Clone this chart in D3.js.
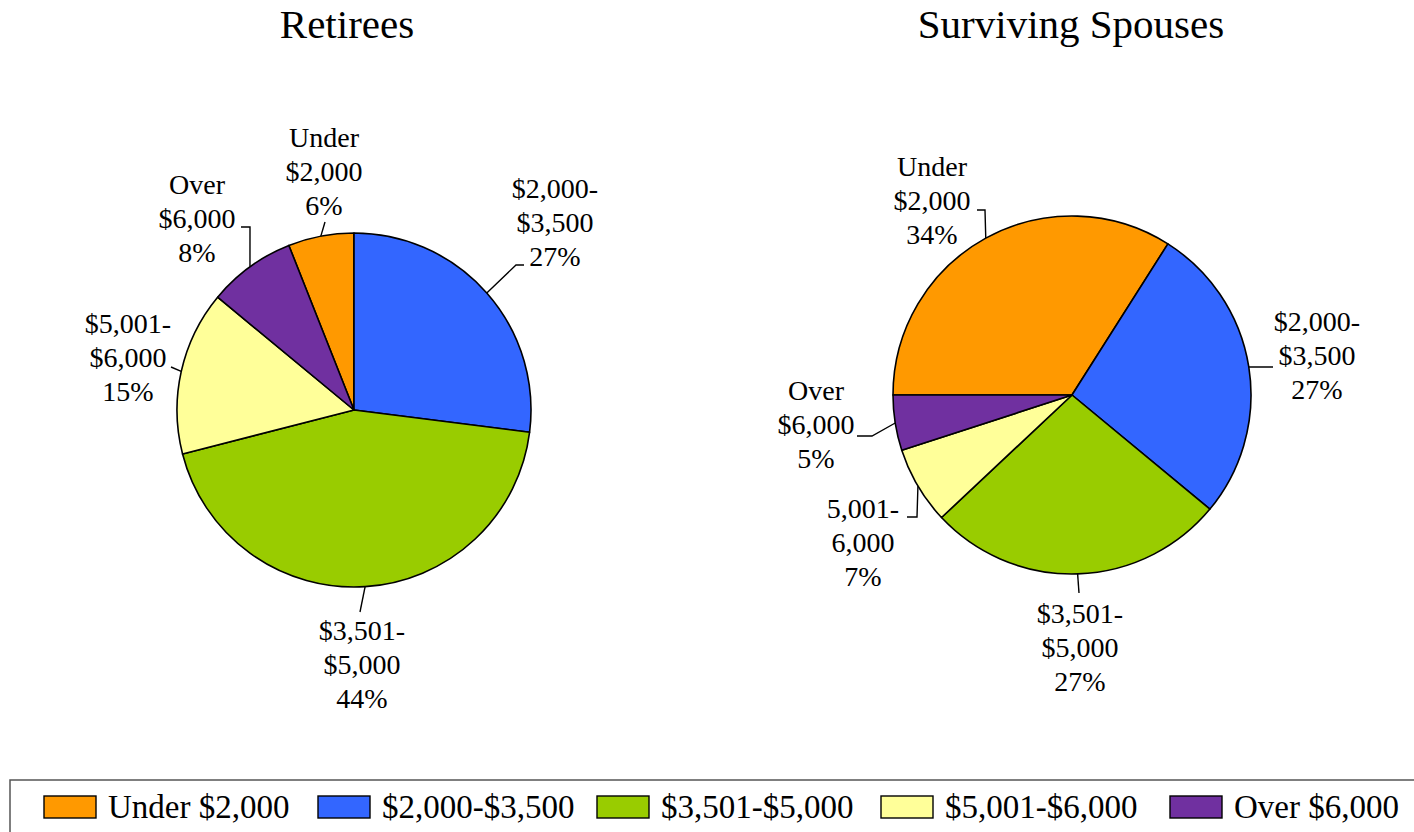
<!DOCTYPE html>
<html>
<head>
<meta charset="utf-8">
<script src="https://cdn.jsdelivr.net/npm/d3@7"></script>
<style>
  body { margin: 0; background: #fff; }
  svg { display: block; font-family: "Liberation Serif", "Times New Roman", serif; }
</style>
</head>
<body>
<div id="chart"></div>
<script>
// data
const categories = ["Under $2,000", "$2,000-$3,500", "$3,501-$5,000", "$5,001-$6,000", "Over $6,000"];
const retireesValues = [6, 27, 44, 15, 8];
const spousesValues = [34, 27, 27, 7, 5];
const retireesLabels = [["Under", "$2,000"], ["$2,000-", "$3,500"], ["$3,501-", "$5,000"], ["$5,001-", "$6,000"], ["Over", "$6,000"]];
const spousesLabels = [["Under", "$2,000"], ["$2,000-", "$3,500"], ["$3,501-", "$5,000"], ["5,001-", "6,000"], ["Over", "$6,000"]];
const colors = ["#FF9900", "#3366FF", "#99CC00", "#FFFF99", "#7030A0"];

const width = 1414, height = 832;

const svg = d3.select("#chart").append("svg")
    .attr("width", width)
    .attr("height", height);

// label layout: text offset from pie center (middle line baseline) and leader points
const pies = [
    {
        title: "Retirees", titleX: 347, cx: 354, cy: 410, r: 177, startDeg: -21.6,
        values: retireesValues, labels: retireesLabels,
        layout: [
            { dx: -30, dy: -229, leader: [[-29, -188]] },
            { dx: 201, dy: -178, leader: [[162, -145], [170, -145]] },
            { dx: 8, dy: 264, leader: [[6, 202]] },
            { dx: -226, dy: -43, leader: [[-183, -43]] },
            { dx: -157, dy: -182, leader: [[-104, -183], [-113, -183]] }
        ]
    },
    {
        title: "Surviving Spouses", titleX: 1071, cx: 1072, cy: 395, r: 179, startDeg: -90,
        values: spousesValues, labels: spousesLabels,
        layout: [
            { dx: -140, dy: -185, leader: [[-87, -185], [-95, -185]] },
            { dx: 245, dy: -30, leader: [[201, -28]] },
            { dx: 8, dy: 262, leader: [[7, 198]] },
            { dx: -209, dy: 157, leader: [[-155, 122], [-165, 122]] },
            { dx: -256, dy: 39, leader: [[-200, 41], [-215, 41]] }
        ]
    }
];

const lineGap = 34;

pies.forEach(p => {
    svg.append("text")
        .attr("x", p.titleX)
        .attr("y", 38)
        .attr("text-anchor", "middle")
        .style("font-size", "41px")
        .text(p.title);

    const start = p.startDeg * Math.PI / 180;
    const pie = d3.pie().sort(null).startAngle(start).endAngle(start + 2 * Math.PI);
    const arcs = pie(p.values);
    const arc = d3.arc().innerRadius(0).outerRadius(p.r);
    const edge = d3.arc().innerRadius(p.r).outerRadius(p.r);

    const g = svg.append("g").attr("transform", `translate(${p.cx},${p.cy})`);

    g.selectAll("path.slice")
        .data(arcs)
        .enter().append("path")
        .attr("class", "slice")
        .attr("d", arc)
        .attr("fill", (d, i) => colors[i])
        .attr("stroke", "#000")
        .attr("stroke-width", 1.6)
        .attr("stroke-linejoin", "round");

    // leader lines
    g.selectAll("path.leader")
        .data(arcs)
        .enter().append("path")
        .attr("class", "leader")
        .attr("d", (d, i) => d3.line()([edge.centroid(d), ...p.layout[i].leader]))
        .attr("fill", "none")
        .attr("stroke", "#000")
        .attr("stroke-width", 1.4);

    // labels
    const lbl = g.selectAll("text.lbl")
        .data(arcs)
        .enter().append("text")
        .attr("class", "lbl")
        .attr("text-anchor", "middle")
        .style("font-size", "28px");

    lbl.each(function (d, i) {
        const lines = p.labels[i].concat([d.data + "%"]);
        const t = d3.select(this);
        lines.forEach((s, k) => {
            t.append("tspan")
                .attr("x", p.layout[i].dx)
                .attr("y", p.layout[i].dy + (k - 1) * lineGap)
                .text(s);
        });
    });
});

// legend
const legendX = [44, 318, 597, 881, 1170];
svg.append("rect")
    .attr("x", 10)
    .attr("y", 780)
    .attr("width", 1430)
    .attr("height", 100)
    .attr("fill", "none")
    .attr("stroke", "#555")
    .attr("stroke-width", 1.5);

const item = svg.selectAll("g.legend")
    .data(categories)
    .enter().append("g")
    .attr("class", "legend")
    .attr("transform", (d, i) => `translate(${legendX[i]},796)`);

item.append("rect")
    .attr("width", 52)
    .attr("height", 22)
    .attr("fill", (d, i) => colors[i])
    .attr("stroke", "#000")
    .attr("stroke-width", 1.4);

item.append("text")
    .attr("x", 64)
    .attr("y", 22)
    .style("font-size", "33px")
    .text(d => d);
</script>
</body>
</html>
